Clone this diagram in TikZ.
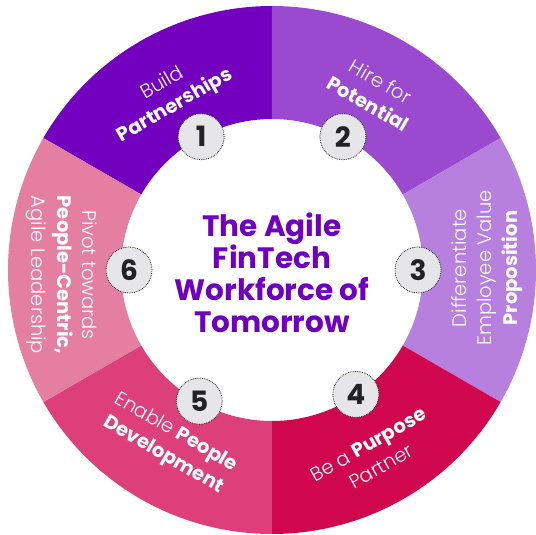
\documentclass[tikz,border=0pt]{standalone}
\usepackage{fontspec}
\setmainfont{Poppins}[UprightFont=* Light, BoldFont=* Bold]
\definecolor{c1}{HTML}{7200BE}
\definecolor{c2}{HTML}{9B4ACF}
\definecolor{c3}{HTML}{B77FDE}
\definecolor{c4}{HTML}{D0074F}
\definecolor{c5}{HTML}{DC3F7A}
\definecolor{c6}{HTML}{E57FA2}
\definecolor{titlec}{HTML}{7000C0}
\definecolor{numgray}{HTML}{E6E6E8}
\definecolor{numtext}{HTML}{222222}
\begin{document}
\begin{tikzpicture}[x=1pt,y=1pt,
  segtext/.style={text=white, align=center, font=\fontsize{19.5}{25.5}\selectfont},
  numc/.style={circle, minimum size=46pt, inner sep=0pt, fill=numgray, draw=numtext, densely dotted, line width=0.8pt, text=numtext, font=\bfseries\fontsize{28}{28}\selectfont},
  titletext/.style={text=titlec, align=center, font=\bfseries\fontsize{29.5}{32}\selectfont}
]
\useasboundingbox (-272,-265) rectangle (264,270);
\fill[c1] (90:264pt) arc[start angle=90,end angle=150,radius=264pt] -- (150:151pt) arc[start angle=150,end angle=90,radius=151pt] -- cycle;
\fill[c2] (30:264pt) arc[start angle=30,end angle=90,radius=264pt] -- (90:151pt) arc[start angle=90,end angle=30,radius=151pt] -- cycle;
\fill[c3] (-30:264pt) arc[start angle=-30,end angle=30,radius=264pt] -- (30:151pt) arc[start angle=30,end angle=-30,radius=151pt] -- cycle;
\fill[c4] (-90:264pt) arc[start angle=-90,end angle=-30,radius=264pt] -- (-30:151pt) arc[start angle=-30,end angle=-90,radius=151pt] -- cycle;
\fill[c5] (-150:264pt) arc[start angle=-150,end angle=-90,radius=264pt] -- (-90:151pt) arc[start angle=-90,end angle=-150,radius=151pt] -- cycle;
\fill[c6] (150:264pt) arc[start angle=150,end angle=210,radius=264pt] -- (210:151pt) arc[start angle=210,end angle=150,radius=151pt] -- cycle;

\node[titletext] (title) at (0,-3) {The Agile\\FinTech\\Workforce of\\Tomorrow};

\node[segtext, rotate=30] (s1) at (120.5:203pt) {Build\\\textbf{Partnerships}};
\node[segtext, rotate=-30] (s2) at (60:205pt) {Hire for\\\textbf{Potential}};
\node[segtext, rotate=90] (s3) at (215,2) {Differentiate\\Employee Value\\\textbf{Proposition}};
\node[segtext, rotate=30] (s4) at (-61:212pt) {Be a \textbf{Purpose}\\Partner};
\node[segtext, rotate=-30] (s5) at (-120.5:202pt) {Enable \textbf{People}\\\textbf{Development}};
\node[segtext, rotate=-90] (s6) at (-210,-5) {Pivot towards\\\textbf{People-Centric,}\\Agile Leadership};

\node[numc] (n1) at (118:151pt) {1};
\node[numc] (n2) at (62:151pt) {2};
\node[numc] (n3) at (0:146pt) {3};
\node[numc] (n4) at (-56:150pt) {4};
\node[numc] (n5) at (-119:150pt) {5};
\node[numc] (n6) at (180:143pt) {6};
\end{tikzpicture}
\end{document}
